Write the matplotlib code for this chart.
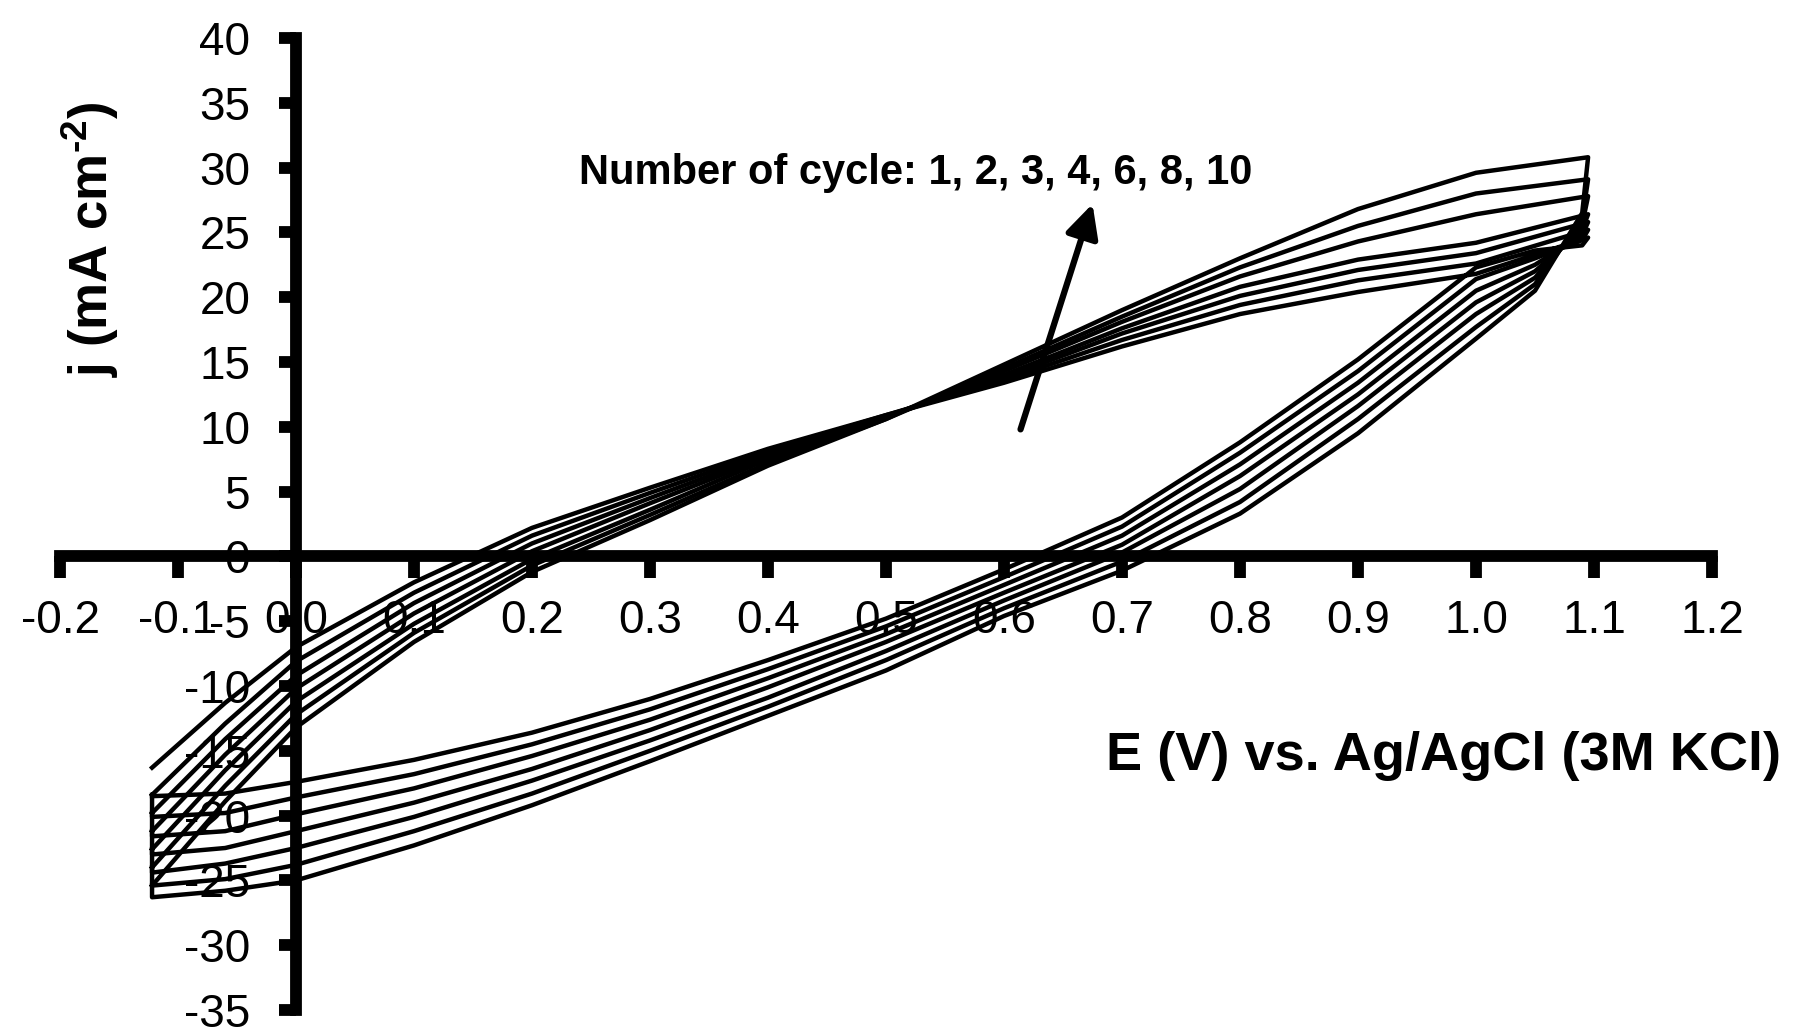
import matplotlib
matplotlib.use('Agg')
import matplotlib.pyplot as plt

plt.rcParams['font.family'] = ['Liberation Sans', 'DejaVu Sans']
plt.rcParams['axes.unicode_minus'] = False
plt.rcParams['mathtext.fontset'] = 'custom'
plt.rcParams['mathtext.rm'] = 'Liberation Sans:bold'
plt.rcParams['mathtext.default'] = 'rm'

# potential points (V) of the forward (anodic) and reverse (cathodic) scan
E_anodic = [-0.122, -0.06, 0.0, 0.1, 0.2, 0.3, 0.4, 0.5, 0.6, 0.7, 0.8, 0.9, 1.0, 1.095]
E_cathodic = [1.09, 1.05, 1.0, 0.9, 0.8, 0.7, 0.6, 0.5, 0.4, 0.3, 0.2, 0.1, 0.0, -0.06, -0.122]

cycles = [1, 2, 3, 4, 6, 8, 10]

# current density (mA cm-2)
anod_1 = [-16.3, -11.3, -7.0, -2.0, 2.2, 5.3, 8.3, 10.9, 13.4, 16.2, 18.7, 20.4, 21.8, 24.6]
anod_2 = [-18.4, -12.9, -8.1, -2.8, 1.6, 4.9, 8.1, 10.9, 13.6, 16.7, 19.4, 21.3, 22.6, 25.2]
anod_3 = [-19.8, -14.1, -9.2, -3.6, 1.0, 4.5, 7.9, 10.8, 13.8, 17.2, 20.1, 22.1, 23.4, 25.8]
anod_4 = [-21.2, -15.3, -10.2, -4.4, 0.4, 4.1, 7.7, 10.8, 14.0, 17.6, 20.8, 22.9, 24.2, 26.4]
anod_6 = [-22.6, -16.5, -11.2, -5.2, -0.2, 3.6, 7.5, 10.7, 14.3, 18.1, 21.6, 24.3, 26.4, 27.8]
anod_8 = [-24.0, -17.7, -12.2, -5.9, -0.7, 3.2, 7.2, 10.6, 14.5, 18.5, 22.3, 25.5, 28.0, 29.1]
anod_10 = [-25.4, -18.9, -13.2, -6.6, -1.2, 2.8, 7.0, 10.6, 14.8, 19.0, 23.0, 26.8, 29.6, 30.8]

cath_1 = [24.0, 23.6, 22.3, 15.2, 8.8, 3.0, -1.0, -4.8, -8.0, -11.0, -13.6, -15.7, -17.4, -18.3, -18.5]
cath_2 = [24.4, 23.0, 21.4, 14.3, 8.0, 2.3, -1.6, -5.4, -8.7, -11.8, -14.5, -16.8, -18.6, -19.8, -20.1]
cath_3 = [24.8, 22.5, 20.5, 13.4, 7.1, 1.6, -2.2, -6.0, -9.4, -12.6, -15.4, -17.9, -19.9, -21.2, -21.6]
cath_4 = [25.2, 22.0, 19.6, 12.5, 6.2, 0.9, -2.8, -6.6, -10.1, -13.4, -16.4, -19.0, -21.2, -22.5, -23.0]
cath_6 = [25.6, 21.5, 18.7, 11.6, 5.2, 0.3, -3.4, -7.3, -10.9, -14.2, -17.3, -20.1, -22.5, -23.7, -24.4]
cath_8 = [26.0, 21.0, 17.7, 10.6, 4.2, -0.4, -4.0, -8.0, -11.6, -15.0, -18.3, -21.2, -23.8, -24.9, -25.4]
cath_10 = [26.5, 20.5, 16.8, 9.5, 3.3, -1.1, -4.6, -8.8, -12.3, -15.8, -19.2, -22.3, -25.0, -25.8, -26.3]

x_ticks = [-0.2, -0.1, 0.0, 0.1, 0.2, 0.3, 0.4, 0.5, 0.6, 0.7, 0.8, 0.9, 1.0, 1.1, 1.2]
x_labels = ['-0.2', '-0.1', '0.0', '0.1', '0.2', '0.3', '0.4', '0.5', '0.6', '0.7',
            '0.8', '0.9', '1.0', '1.1', '1.2']
y_ticks = [-35, -30, -25, -20, -15, -10, -5, 0, 5, 10, 15, 20, 25, 30, 35, 40]

anodic = [anod_1, anod_2, anod_3, anod_4, anod_6, anod_8, anod_10]
cathodic = [cath_1, cath_2, cath_3, cath_4, cath_6, cath_8, cath_10]

fig = plt.figure(figsize=(18.14, 10.34), dpi=100)
ax = fig.add_axes([0.03308, 0.02321, 0.91069, 0.94004])

for cyc, ja, jc in zip(cycles, anodic, cathodic):
    xs = E_anodic + E_cathodic
    ys = ja + jc
    if cyc != 1:
        # potential held at the lower vertex joins end of scan to start
        xs = xs + [xs[0]]
        ys = ys + [ys[0]]
    ax.plot(xs, ys, color='black', lw=3.2, zorder=3)

ax.set_xlim(-0.2, 1.2)
ax.set_ylim(-35, 40)

# axes crossing at the origin
ax.spines['left'].set_position(('data', 0))
ax.spines['bottom'].set_position(('data', 0))
ax.spines['top'].set_visible(False)
ax.spines['right'].set_visible(False)
for s in ['left', 'bottom']:
    ax.spines[s].set_linewidth(8.5)

ax.set_xticks(x_ticks)
ax.set_xticklabels(x_labels)
ax.set_yticks(y_ticks)
ax.set_yticklabels([str(v) for v in y_ticks])
ax.tick_params(axis='x', direction='out', length=16, width=8.5, pad=15, labelsize=33)
ax.tick_params(axis='y', direction='out', length=12, width=8.5, pad=21, labelsize=33)

ax.annotate('', xy=(0.675, 27.2), xytext=(0.614, 9.8),
            arrowprops=dict(arrowstyle='-|>', color='black', lw=4.5,
                            mutation_scale=50, shrinkA=0, shrinkB=0), zorder=4)
ax.text(0.240, 28.7, 'Number of cycle: 1, 2, 3, 4, 6, 8, 10', fontsize=30,
        fontweight='bold', ha='left', va='baseline')

fig.text(1106 / 1814, 1 - 770 / 1034, 'E (V) vs. Ag/AgCl (3M KCl)', fontsize=39,
         fontweight='bold', ha='left', va='baseline')
fig.text(90 / 1814, 1 - 239 / 1034, r'j (mA cm$^{\text{-2}}$)', fontsize=38,
         fontweight='bold', rotation=90, ha='center', va='center')

fig.savefig('out.png', dpi=100)
